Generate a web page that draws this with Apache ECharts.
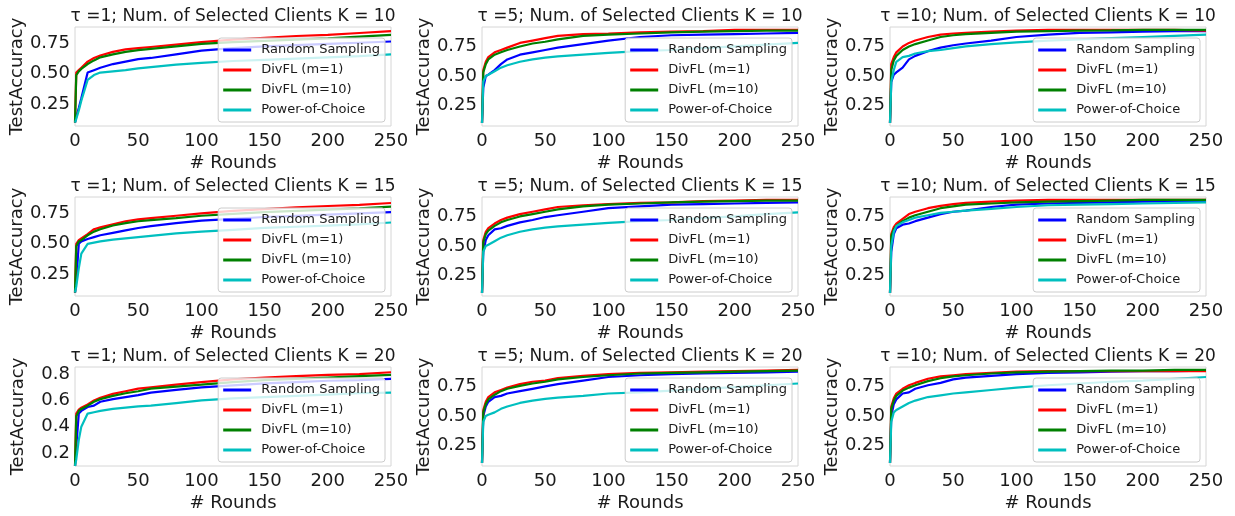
<!DOCTYPE html>
<html><head><meta charset="utf-8">
<script src="https://cdn.jsdelivr.net/npm/echarts@6/dist/echarts.min.js"></script>
<style>html,body{margin:0;padding:0;background:#fff}#c{width:1235px;height:516px}</style>
</head><body><div id="c"></div><script>
// ---- data ----
const rounds = [0,1,3,5,10,15,20,30,40,50,60,80,100,125,150,175,200,225,250];
const seriesNames = ['Random Sampling','DivFL (m=1)','DivFL (m=10)','Power-of-Choice'];
const taus = [1,5,10];
const Ks = [10,15,20];

// tau=1, K=10
const rand_t1_k10  = [0.10,0.15,0.22,0.30,0.51,0.53,0.55,0.58,0.60,0.62,0.63,0.66,0.69,0.71,0.725,0.735,0.745,0.755,0.765];
const div1_t1_k10  = [0.10,0.51,0.53,0.55,0.60,0.63,0.65,0.68,0.70,0.71,0.72,0.74,0.76,0.78,0.795,0.81,0.82,0.835,0.85];
const div10_t1_k10 = [0.10,0.49,0.52,0.54,0.58,0.61,0.635,0.66,0.68,0.695,0.705,0.725,0.745,0.76,0.77,0.78,0.79,0.805,0.82];
const poc_t1_k10   = [0.10,0.13,0.20,0.28,0.45,0.49,0.51,0.52,0.53,0.545,0.555,0.575,0.59,0.605,0.615,0.625,0.635,0.645,0.66];
// tau=5, K=10
const rand_t5_k10  = [0.10,0.40,0.50,0.51,0.55,0.60,0.64,0.68,0.70,0.72,0.74,0.77,0.80,0.83,0.845,0.85,0.855,0.86,0.865];
const div1_t5_k10  = [0.10,0.55,0.62,0.66,0.70,0.72,0.74,0.78,0.80,0.82,0.84,0.855,0.86,0.87,0.875,0.88,0.89,0.89,0.89];
const div10_t5_k10 = [0.10,0.53,0.60,0.64,0.68,0.70,0.72,0.75,0.775,0.79,0.81,0.84,0.85,0.86,0.87,0.875,0.88,0.885,0.885];
const poc_t5_k10   = [0.10,0.45,0.50,0.51,0.54,0.57,0.59,0.62,0.64,0.655,0.665,0.68,0.695,0.71,0.72,0.735,0.75,0.765,0.78];
// tau=10, K=10
const rand_t10_k10  = [0.10,0.45,0.51,0.53,0.57,0.64,0.67,0.71,0.74,0.76,0.775,0.80,0.83,0.85,0.865,0.87,0.875,0.88,0.88];
const div1_t10_k10  = [0.10,0.60,0.66,0.70,0.75,0.78,0.80,0.83,0.85,0.86,0.865,0.875,0.885,0.89,0.89,0.89,0.89,0.89,0.885];
const div10_t10_k10 = [0.10,0.55,0.63,0.67,0.72,0.75,0.77,0.80,0.83,0.845,0.855,0.865,0.875,0.88,0.885,0.887,0.89,0.89,0.89];
const poc_t10_k10   = [0.10,0.45,0.55,0.62,0.66,0.67,0.69,0.71,0.72,0.735,0.75,0.77,0.785,0.80,0.81,0.82,0.83,0.84,0.85];
// tau=1, K=15
const rand_t1_k15  = [0.10,0.20,0.50,0.52,0.54,0.555,0.57,0.59,0.61,0.63,0.645,0.67,0.69,0.705,0.72,0.73,0.74,0.75,0.76];
const div1_t1_k15  = [0.10,0.50,0.53,0.545,0.58,0.62,0.635,0.66,0.685,0.70,0.71,0.73,0.75,0.77,0.785,0.80,0.81,0.82,0.835];
const div10_t1_k15 = [0.10,0.48,0.52,0.53,0.57,0.60,0.62,0.65,0.67,0.685,0.695,0.71,0.73,0.745,0.76,0.77,0.78,0.79,0.805];
const poc_t1_k15   = [0.10,0.15,0.30,0.42,0.50,0.51,0.52,0.535,0.545,0.555,0.565,0.585,0.60,0.615,0.63,0.64,0.65,0.66,0.675];
// tau=5, K=15
const rand_t5_k15  = [0.10,0.45,0.55,0.59,0.64,0.65,0.67,0.70,0.72,0.745,0.76,0.79,0.82,0.835,0.85,0.855,0.86,0.865,0.87];
const div1_t5_k15  = [0.10,0.55,0.62,0.65,0.69,0.72,0.74,0.77,0.79,0.81,0.83,0.845,0.855,0.865,0.87,0.88,0.885,0.89,0.89];
const div10_t5_k15 = [0.10,0.53,0.60,0.63,0.67,0.70,0.72,0.75,0.77,0.79,0.81,0.835,0.85,0.86,0.87,0.875,0.88,0.885,0.885];
const poc_t5_k15   = [0.10,0.45,0.50,0.51,0.54,0.57,0.59,0.62,0.64,0.655,0.665,0.68,0.695,0.71,0.72,0.735,0.75,0.77,0.785];
// tau=10, K=15
const rand_t10_k15  = [0.10,0.45,0.60,0.65,0.68,0.69,0.71,0.74,0.77,0.79,0.80,0.83,0.85,0.86,0.865,0.87,0.875,0.88,0.88];
const div1_t10_k15  = [0.10,0.60,0.66,0.69,0.73,0.77,0.79,0.82,0.84,0.855,0.865,0.875,0.885,0.89,0.89,0.89,0.89,0.89,0.89];
const div10_t10_k15 = [0.10,0.58,0.64,0.67,0.71,0.74,0.76,0.79,0.82,0.835,0.85,0.86,0.87,0.875,0.88,0.885,0.89,0.89,0.89];
const poc_t10_k15   = [0.10,0.50,0.62,0.67,0.70,0.72,0.74,0.76,0.78,0.79,0.80,0.815,0.83,0.845,0.85,0.855,0.86,0.865,0.87];
// tau=1, K=20
const rand_t1_k20  = [0.10,0.25,0.50,0.52,0.55,0.56,0.59,0.61,0.625,0.64,0.66,0.68,0.70,0.715,0.73,0.74,0.75,0.755,0.765];
const div1_t1_k20  = [0.10,0.50,0.53,0.545,0.57,0.60,0.62,0.65,0.67,0.69,0.70,0.72,0.74,0.76,0.775,0.785,0.795,0.80,0.815];
const div10_t1_k20 = [0.10,0.48,0.52,0.535,0.56,0.59,0.61,0.635,0.655,0.67,0.69,0.705,0.72,0.74,0.755,0.765,0.775,0.785,0.795];
const poc_t1_k20   = [0.10,0.15,0.30,0.40,0.50,0.51,0.52,0.535,0.545,0.555,0.56,0.58,0.60,0.615,0.625,0.635,0.645,0.655,0.66];
// tau=5, K=20
const rand_t5_k20  = [0.10,0.50,0.58,0.62,0.66,0.67,0.69,0.71,0.73,0.75,0.77,0.80,0.83,0.845,0.855,0.86,0.865,0.87,0.875];
const div1_t5_k20  = [0.10,0.55,0.62,0.66,0.70,0.72,0.74,0.77,0.79,0.80,0.82,0.84,0.855,0.865,0.87,0.875,0.88,0.885,0.89];
const div10_t5_k20 = [0.10,0.53,0.60,0.64,0.68,0.71,0.73,0.755,0.775,0.79,0.81,0.83,0.845,0.86,0.865,0.87,0.875,0.88,0.885];
const poc_t5_k20   = [0.10,0.45,0.50,0.51,0.53,0.56,0.58,0.61,0.63,0.645,0.655,0.67,0.69,0.70,0.715,0.73,0.745,0.76,0.775];
// tau=10, K=20
const rand_t10_k20  = [0.10,0.50,0.60,0.64,0.69,0.70,0.73,0.76,0.78,0.81,0.825,0.84,0.855,0.865,0.87,0.875,0.88,0.88,0.885];
const div1_t10_k20  = [0.10,0.58,0.65,0.69,0.73,0.76,0.78,0.815,0.835,0.845,0.855,0.865,0.875,0.88,0.88,0.88,0.88,0.88,0.88];
const div10_t10_k20 = [0.10,0.56,0.63,0.67,0.715,0.74,0.76,0.795,0.82,0.835,0.845,0.86,0.87,0.875,0.88,0.885,0.885,0.89,0.89];
const poc_t10_k20   = [0.10,0.45,0.53,0.55,0.58,0.61,0.63,0.66,0.675,0.69,0.70,0.72,0.74,0.76,0.775,0.79,0.80,0.815,0.83];

// tick labels
const xTicks = [0,50,100,150,200,250];
const yTicksA = [0.25,0.50,0.75];
const yTickLabelsA = ['0.25','0.50','0.75'];
const yTicksB = [0.2,0.4,0.6,0.8];
const yTickLabelsB = ['0.2','0.4','0.6','0.8'];

// panels, row-major: [K row][tau col]
const panelData = [
  [[rand_t1_k10,div1_t1_k10,div10_t1_k10,poc_t1_k10],[rand_t5_k10,div1_t5_k10,div10_t5_k10,poc_t5_k10],[rand_t10_k10,div1_t10_k10,div10_t10_k10,poc_t10_k10]],
  [[rand_t1_k15,div1_t1_k15,div10_t1_k15,poc_t1_k15],[rand_t5_k15,div1_t5_k15,div10_t5_k15,poc_t5_k15],[rand_t10_k15,div1_t10_k15,div10_t10_k15,poc_t10_k15]],
  [[rand_t1_k20,div1_t1_k20,div10_t1_k20,poc_t1_k20],[rand_t5_k20,div1_t5_k20,div10_t5_k20,poc_t5_k20],[rand_t10_k20,div1_t10_k20,div10_t10_k20,poc_t10_k20]]
];

// ---- layout / style ----
const colors = ['#0000ff','#ff0000','#008000','#00bfbf'];
const colLeft = [75, 482, 890];
const rowTop = [27, 197, 367];
const gw = 316, gh = 99;
const W = 1235;
const font = 'DejaVu Sans';
const txt = '#1a1a1a';

function yRange(r, c) {
  if (c === 0) {
    if (r === 2) return [0.1, 0.855];
    return [0.072, 0.884];
  }
  return [0.075, 0.915];
}

const option = {
  animation: false,
  backgroundColor: '#ffffff',
  title: [], grid: [], xAxis: [], yAxis: [], legend: [], series: []
};

let idx = 0;
for (let r = 0; r < 3; r++) {
  for (let c = 0; c < 3; c++) {
    const L = colLeft[c], T = rowTop[r];
    option.grid.push({left: L, top: T, width: gw, height: gh, show: true,
      borderColor: '#d6d6d6', borderWidth: 1, containLabel: false});
    option.title.push({
      text: 'τ =' + taus[c] + '; Num. of Selected Clients K = ' + Ks[r],
      left: L + gw / 2, top: T - 19, textAlign: 'center', padding: 0,
      textStyle: {fontFamily: font, fontSize: 17, fontWeight: 'normal', color: txt}
    });
    option.xAxis.push({
      type: 'value', gridIndex: idx, min: 0, max: 250, interval: 50,
      name: '# Rounds', nameLocation: 'middle', nameGap: 28,
      nameTextStyle: {fontFamily: font, fontSize: 18, color: txt},
      axisLine: {show: false}, axisTick: {show: false}, splitLine: {show: false},
      axisLabel: {fontFamily: font, fontSize: 18, color: txt, margin: 6,
        customValues: xTicks}
    });
    const yr = yRange(r, c);
    const useB = (r === 2 && c === 0);
    const tv = useB ? yTicksB : yTicksA;
    const tl = useB ? yTickLabelsB : yTickLabelsA;
    option.yAxis.push({
      type: 'value', gridIndex: idx, min: yr[0], max: yr[1],
      name: 'TestAccuracy', nameLocation: 'middle', nameGap: 48,
      nameTextStyle: {fontFamily: font, fontSize: 18, color: txt},
      axisLine: {show: false}, axisTick: {show: false}, splitLine: {show: false},
      axisLabel: {fontFamily: font, fontSize: 18, color: txt, margin: 5,
        customValues: tv,
        formatter: function (v) { const i = tv.findIndex(t => Math.abs(t - v) < 1e-6); return i >= 0 ? tl[i] : ''; }}
    });
    option.legend.push({
      data: seriesNames, orient: 'vertical',
      right: W - (L + gw - 6), top: T + 11,
      icon: 'rect', itemWidth: 28, itemHeight: 3, itemGap: 6,
      padding: [5, 5, 5, 5],
      backgroundColor: 'rgba(255,255,255,0.8)', borderColor: '#cccccc', borderWidth: 1, borderRadius: 3,
      textStyle: {fontFamily: font, fontSize: 13, color: txt, lineHeight: 14, padding: [0, 0, 0, 5]},
      selectedMode: false, z: 10
    });
    const ds = panelData[r][c];
    for (let s = 0; s < 4; s++) {
      option.series.push({
        type: 'line', name: seriesNames[s], xAxisIndex: idx, yAxisIndex: idx,
        data: rounds.map((x, i) => [x, ds[s][i]]),
        showSymbol: false, symbol: 'none',
        lineStyle: {width: 2.2, color: colors[s]}, itemStyle: {color: colors[s]},
        z: 2
      });
    }
    idx++;
  }
}

const chart = echarts.init(document.getElementById('c'), null, {renderer: 'canvas'});
chart.setOption(option);
</script></body></html>
